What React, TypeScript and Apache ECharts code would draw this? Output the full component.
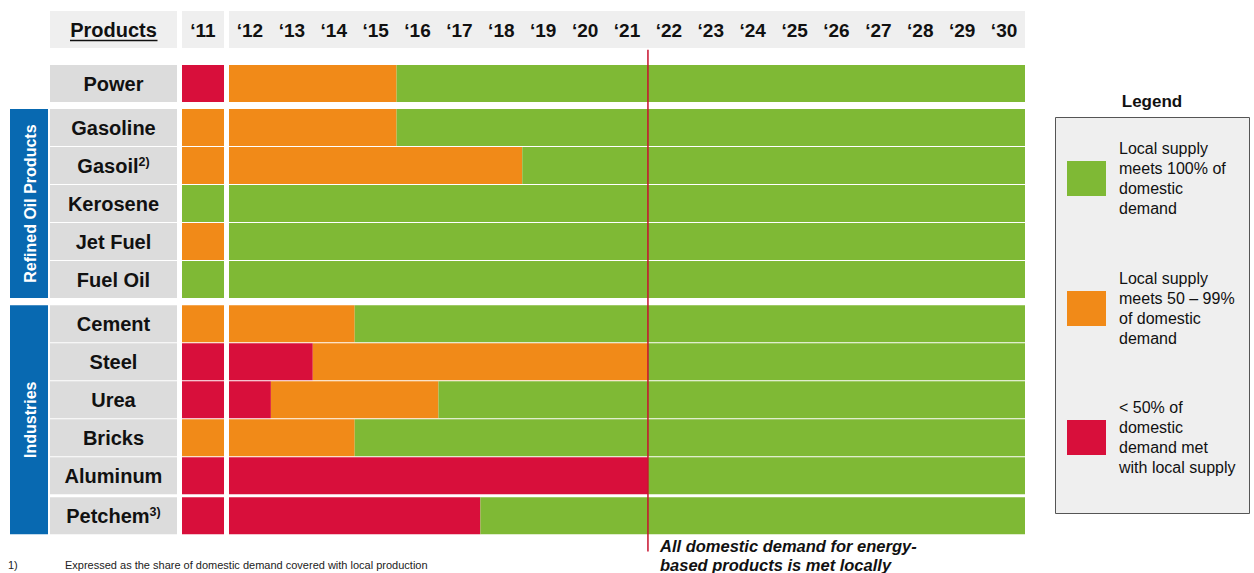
import React, { useEffect, useRef } from "react";
import * as echarts from "echarts";

const FONT = "'Liberation Sans', Arial, sans-serif";

const PRODUCTS = ["Power", "Gasoline", "Gasoil", "Kerosene", "Jet Fuel", "Fuel Oil", "Cement", "Steel", "Urea", "Bricks", "Aluminum", "Petchem"];
const PRODUCT_LABELS = ["Power", "Gasoline", "Gasoil{sup|2)}", "Kerosene", "Jet Fuel", "Fuel Oil", "Cement", "Steel", "Urea", "Bricks", "Aluminum", "Petchem{sup|3)}"];
const GROUP_OF_PRODUCT = [0, 1, 1, 1, 1, 1, 2, 2, 2, 2, 2, 2];
const GROUP_NAMES = ["", "Refined Oil Products", "Industries"];
const EXTRA_GAP_BEFORE = ["Petchem"];

// status in 2011 column
const STATUS_2011 = ["red", "orange", "orange", "green", "orange", "green", "orange", "red", "red", "orange", "red", "red"];
// last year (from '12 on) with <50% (red) and with 50-99% (orange); 2011 = none
const LAST_RED_YEAR = [2011, 2011, 2011, 2011, 2011, 2011, 2011, 2013, 2012, 2011, 2021, 2017];
const LAST_ORANGE_YEAR = [2015, 2015, 2018, 2011, 2011, 2011, 2014, 2021, 2016, 2014, 2021, 2017];

const FIRST_YEAR = 2011;
const YEARS = [2012, 2013, 2014, 2015, 2016, 2017, 2018, 2019, 2020, 2021, 2022, 2023, 2024, 2025, 2026, 2027, 2028, 2029, 2030];
const YEAR_LABELS = ["\u201812", "\u201813", "\u201814", "\u201815", "\u201816", "\u201817", "\u201818", "\u201819", "\u201820", "\u201821", "\u201822", "\u201823", "\u201824", "\u201825", "\u201826", "\u201827", "\u201828", "\u201829", "\u201830"];
const FIRST_YEAR_LABELS = ["\u201811"];
const LAST_IMPORT_YEAR = 2021;

const STATUS_KEYS = ["green", "orange", "red"];
const COLORS: Record<string, string> = { green: "#7fb935", orange: "#f18a18", red: "#d80f3b" };
const LEGEND_TEXTS = [
  "Local supply\nmeets 100% of\ndomestic\ndemand",
  "Local supply\nmeets 50 \u2013 99%\nof domestic\ndemand",
  "< 50% of\ndomestic\ndemand met\nwith local supply",
];

// layout (row units)
const GROUP_GAP = 0.16;
const SUB_GAP = 0.055;
const BAR_H = 0.974;
const ROW_PX = 38;
const TOP = 65;

function rowTops(): number[] {
  let offset = 0;
  return PRODUCTS.map((p, i) => {
    if (i > 0 && GROUP_OF_PRODUCT[i] !== GROUP_OF_PRODUCT[i - 1]) offset += GROUP_GAP;
    if (EXTRA_GAP_BEFORE.includes(p)) offset += SUB_GAP;
    return i + offset;
  });
}

export default function App() {
  const ref = useRef<HTMLDivElement>(null);
  useEffect(() => {
    const chart = echarts.init(ref.current!, null, { renderer: "svg" });
    const tops = rowTops();
    const total = tops[tops.length - 1] + BAR_H;
    const gridH = total * ROW_PX;

    // main segments
    const segs: number[][] = [];
    PRODUCTS.forEach((_, i) => {
      const r = LAST_RED_YEAR[i];
      const o = LAST_ORANGE_YEAR[i];
      const y0 = YEARS[0];
      const yN = YEARS[YEARS.length - 1];
      if (r > FIRST_YEAR) segs.push([0, r - y0, tops[i], 2]);
      if (o > r) segs.push([r + 1 - y0, o - y0, tops[i], 1]);
      const g = Math.max(r, o);
      if (g < yN) segs.push([g + 1 - y0, yN - y0, tops[i], 0]);
    });
    const firstSegs = PRODUCTS.map((_, i) => [0, 0, tops[i], STATUS_KEYS.indexOf(STATUS_2011[i])]);
    const labelData = PRODUCTS.map((_, i) => [tops[i], i]);
    const groupData: number[][] = [];
    GROUP_NAMES.forEach((name, g) => {
      if (!name) return;
      const idx = GROUP_OF_PRODUCT.map((v, i) => (v === g ? i : -1)).filter((v) => v >= 0);
      groupData.push([tops[idx[0]], tops[idx[idx.length - 1]] + BAR_H, g]);
    });

    const segRender = (params: any, api: any) => {
      const s = api.value(0), e = api.value(1), top = api.value(2), st = api.value(3);
      const p0 = api.coord([s, top]);
      const p1 = api.coord([e, top]);
      const bw = api.size([1, 0])[0];
      const h = api.size([0, BAR_H])[1];
      return {
        type: "rect",
        shape: { x: p0[0] - bw / 2, y: p0[1], width: p1[0] - p0[0] + bw, height: h },
        style: { fill: COLORS[STATUS_KEYS[st]] },
      };
    };

    const yAxisBase = { type: "value", min: 0, max: total, inverse: true, show: false };
    const catAxisLabel = {
      show: true,
      fontSize: 19,
      fontWeight: "bold",
      fontFamily: FONT,
      color: "#111",
      margin: 35,
      verticalAlign: "middle",
    };

    const legendX = 1055, legendY = 117, legendW = 194, legendH = 396;
    const swatchTops = [161, 291, 420];
    const graphics: any[] = [
      { type: "rect", shape: { x: 50, y: 11, width: 127, height: 37 }, style: { fill: "#efefef" }, z: -10 },
      { type: "rect", shape: { x: 182, y: 11, width: 42, height: 37 }, style: { fill: "#efefef" }, z: -10 },
      { type: "rect", shape: { x: 229, y: 11, width: 796, height: 37 }, style: { fill: "#efefef" }, z: -10 },
      {
        type: "text",
        style: { x: 113.5, y: 30, text: "Products", align: "center", verticalAlign: "middle", fontSize: 20, fontWeight: "bold", fontFamily: FONT, fill: "#111" },
      },
      { type: "line", shape: { x1: 70, y1: 40.5, x2: 157.5, y2: 40.5 }, style: { stroke: "#111", lineWidth: 1.6 } },
      {
        type: "text",
        style: { x: 1152, y: 101, text: "Legend", align: "center", verticalAlign: "middle", fontSize: 17, fontWeight: "bold", fontFamily: FONT, fill: "#111" },
      },
      {
        type: "rect",
        shape: { x: legendX + 0.5, y: legendY + 0.5, width: legendW, height: legendH },
        style: { fill: "#efefef", stroke: "#555", lineWidth: 1 },
      },
      {
        type: "text",
        style: {
          x: 660, y: 555,
          text: "All domestic demand for energy-\nbased products is met locally",
          align: "left", verticalAlign: "middle", lineHeight: 19,
          fontSize: 16.5, fontWeight: "bold", fontStyle: "italic", fontFamily: FONT, fill: "#111",
        },
      },
      { type: "text", style: { x: 8, y: 559, text: "1)", fontSize: 11, fontFamily: FONT, fill: "#222", verticalAlign: "top" } },
      {
        type: "text",
        style: { x: 65, y: 559, text: "Expressed as the share of domestic demand covered with local production", fontSize: 11, fontFamily: FONT, fill: "#222", verticalAlign: "top" },
      },
    ];
    STATUS_KEYS.forEach((k, i) => {
      graphics.push({ type: "rect", shape: { x: 1067, y: swatchTops[i], width: 39, height: 35 }, style: { fill: COLORS[k] } });
      graphics.push({
        type: "text",
        style: {
          x: 1119, y: swatchTops[i] + 17.5, text: LEGEND_TEXTS[i], align: "left", verticalAlign: "middle",
          lineHeight: 20, fontSize: 16, fontFamily: FONT, fill: "#111",
        },
      });
    });

    chart.setOption({
      animation: false,
      backgroundColor: "#ffffff",
      grid: [
        { left: 50, top: TOP, width: 127, height: gridH },
        { left: 182, top: TOP, width: 42, height: gridH },
        { left: 229, top: TOP, width: 796, height: gridH },
        { left: 10, top: TOP, width: 38, height: gridH },
      ],
      xAxis: [
        { gridIndex: 0, type: "value", min: 0, max: 1, show: false },
        {
          gridIndex: 1, type: "category", data: FIRST_YEAR_LABELS, position: "top",
          axisLine: { show: false }, axisTick: { show: false }, splitLine: { show: false }, axisLabel: catAxisLabel,
        },
        {
          gridIndex: 2, type: "category", data: YEAR_LABELS, position: "top",
          axisLine: { show: false }, axisTick: { show: false }, splitLine: { show: false },
          axisLabel: { ...catAxisLabel, interval: 0 },
        },
        { gridIndex: 3, type: "value", min: 0, max: 1, show: false },
      ],
      yAxis: [0, 1, 2, 3].map((g) => ({ ...yAxisBase, gridIndex: g })),
      graphic: graphics,
      series: [
        {
          type: "custom",
          xAxisIndex: 0, yAxisIndex: 0,
          data: labelData,
          encode: { y: 0 },
          renderItem: (params: any, api: any) => {
            const top = api.value(0), idx = api.value(1);
            const p0 = api.coord([0, top]);
            const w = api.size([1, 0])[0];
            const h = api.size([0, BAR_H])[1];
            return {
              type: "group",
              children: [
                { type: "rect", shape: { x: p0[0], y: p0[1], width: w, height: h }, style: { fill: "#dcdcdc" } },
                {
                  type: "text",
                  style: {
                    x: p0[0] + w / 2, y: p0[1] + h / 2,
                    text: PRODUCT_LABELS[idx], align: "center", verticalAlign: "middle",
                    fontSize: 20, fontWeight: "bold", fontFamily: FONT, fill: "#111",
                    rich: {
                      sup: { fontSize: 12.5, fontWeight: "bold", fontFamily: FONT, fill: "#111", verticalAlign: "top", padding: [0, 0, 8, 0] },
                    },
                  },
                },
              ],
            };
          },
        },
        {
          type: "custom",
          xAxisIndex: 1, yAxisIndex: 1,
          data: firstSegs,
          encode: { x: [0, 1], y: 2 },
          renderItem: segRender,
        },
        {
          type: "custom",
          xAxisIndex: 2, yAxisIndex: 2,
          data: segs,
          encode: { x: [0, 1], y: 2 },
          renderItem: segRender,
        },
        {
          type: "custom",
          xAxisIndex: 3, yAxisIndex: 3,
          data: groupData,
          encode: { y: [0, 1] },
          renderItem: (params: any, api: any) => {
            const t = api.value(0), b = api.value(1), g = api.value(2);
            const p0 = api.coord([0, t]);
            const p1 = api.coord([1, b]);
            return {
              type: "group",
              children: [
                { type: "rect", shape: { x: p0[0], y: p0[1], width: p1[0] - p0[0], height: p1[1] - p0[1] }, style: { fill: "#0869b1" } },
                {
                  type: "text",
                  x: (p0[0] + p1[0]) / 2 + 1, y: (p0[1] + p1[1]) / 2,
                  rotation: Math.PI / 2,
                  style: {
                    x: 0, y: 0, text: GROUP_NAMES[g], align: "center", verticalAlign: "middle",
                    fontSize: 16, fontWeight: "bold", fontFamily: FONT, fill: "#ffffff",
                  },
                },
              ],
            };
          },
        },
        {
          type: "custom",
          xAxisIndex: 2, yAxisIndex: 2,
          data: [[LAST_IMPORT_YEAR - YEARS[0], -0.4, 12.8]],
          encode: { x: 0, y: [1, 2] },
          z: 5,
          renderItem: (params: any, api: any) => {
            const i = api.value(0);
            const bw = api.size([1, 0])[0];
            const a = api.coord([i, api.value(1)]);
            const b = api.coord([i, api.value(2)]);
            const x = a[0] + bw / 2;
            return { type: "line", shape: { x1: x, y1: a[1], x2: x, y2: b[1] }, style: { stroke: "#c8102e", lineWidth: 1.5 } };
          },
        },
      ],
    });
    return () => chart.dispose();
  }, []);
  return <div ref={ref} style={{ position: "fixed", left: 0, top: 0, width: 1254, height: 573, background: "#fff" }} />;
}
